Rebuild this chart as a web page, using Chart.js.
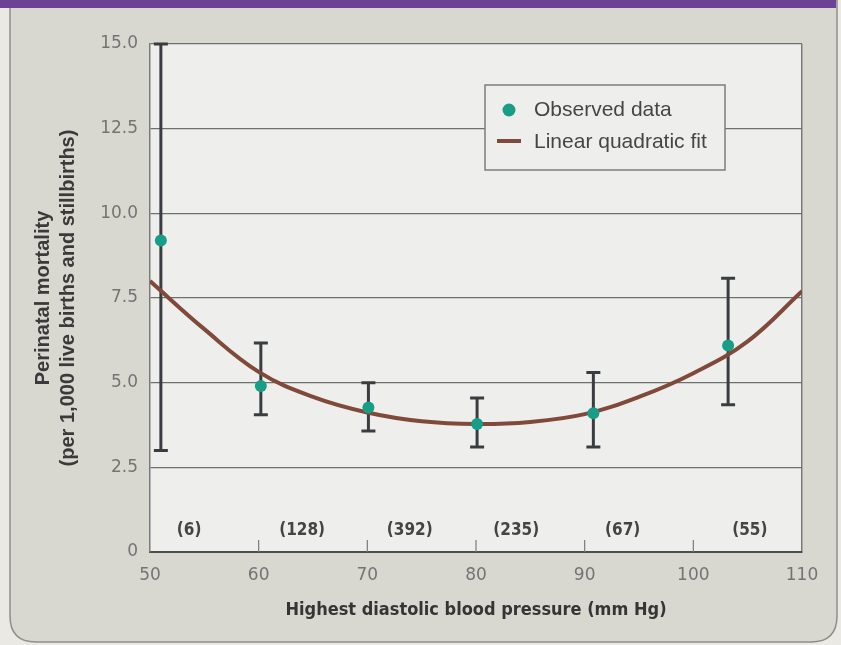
<!DOCTYPE html>
<html>
<head>
<meta charset="utf-8">
<script src="https://cdn.jsdelivr.net/npm/chart.js@4.4.1/dist/chart.umd.min.js"></script>
<style>
  html, body { margin: 0; padding: 0; background: #ebe9e4; }
  #wrap { width: 841px; height: 645px; }
</style>
</head>
<body>
<div id="wrap"><canvas id="bpChart" width="841" height="645"></canvas></div>
<script>
// observed points (mm Hg, deaths per 1,000) with their error bars
const obsX = [51, 60.2, 70.1, 80.1, 90.8, 103.2];
const obsY = [9.2, 4.9, 4.27, 3.78, 4.1, 6.1];
const obsLow = [3.0, 4.05, 3.57, 3.1, 3.1, 4.35];
const obsHigh = [15.0, 6.17, 5.0, 4.55, 5.3, 8.08];

// fitted curve
const fitX = [50, 55, 60, 65, 70, 75, 80, 85, 90, 95, 100, 105, 110];
const fitY = [8.0, 6.58, 5.32, 4.58, 4.12, 3.86, 3.78, 3.84, 4.07, 4.58, 5.28, 6.22, 7.7];

// group sizes written along the bottom
const counts = ["(6)", "(128)", "(392)", "(235)", "(67)", "(55)"];
const countAt = [53.6, 64, 73.9, 83.7, 93.5, 105.2];

const xTicks = [50, 60, 70, 80, 90, 100, 110];
const yTicks = [0, 2.5, 5, 7.5, 10, 12.5, 15];
const yTickLabels = ["0", "2.5", "5.0", "7.5", "10.0", "12.5", "15.0"];

const TEAL = "#189e86";
const BROWN = "#80493a";
const NARROW = "'DejaVu Sans Condensed', 'Liberation Sans', sans-serif";

/* page, panel and plot background */
const backdrop = {
  id: "backdrop",
  beforeDraw(chart) {
    const ctx = chart.ctx;
    const a = chart.chartArea;
    ctx.save();
    ctx.fillStyle = "#ebe9e4";
    ctx.fillRect(0, 0, chart.width, chart.height);

    // panel with rounded bottom corners
    const l = 10, r = 837, t = 0, b = 642, rad = 26;
    ctx.beginPath();
    ctx.moveTo(l, t);
    ctx.lineTo(r, t);
    ctx.lineTo(r, b - rad);
    ctx.quadraticCurveTo(r, b, r - rad, b);
    ctx.lineTo(l + rad, b);
    ctx.quadraticCurveTo(l, b, l, b - rad);
    ctx.closePath();
    ctx.fillStyle = "#d9d8d0";
    ctx.fill();
    ctx.strokeStyle = "#8e8e8e";
    ctx.lineWidth = 1.5;
    ctx.stroke();

    // purple band at the top
    ctx.fillStyle = "#6b4294";
    ctx.fillRect(0, 0, 836, 8);

    ctx.fillStyle = "#eeefed";
    ctx.fillRect(a.left, a.top, a.right - a.left, a.bottom - a.top);
    ctx.restore();
  }
};

/* error bars under the points */
const errorBars = {
  id: "errorBars",
  beforeDatasetsDraw(chart) {
    const ctx = chart.ctx;
    const xs = chart.scales.x, ys = chart.scales.y;
    ctx.save();
    ctx.strokeStyle = "#3a3d3f";
    ctx.lineWidth = 3;
    obsX.forEach((v, i) => {
      const px = xs.getPixelForValue(v);
      const lo = ys.getPixelForValue(obsLow[i]);
      const hi = ys.getPixelForValue(obsHigh[i]);
      ctx.beginPath();
      ctx.moveTo(px, lo); ctx.lineTo(px, hi);
      ctx.moveTo(px - 7, lo); ctx.lineTo(px + 7, lo);
      ctx.moveTo(px - 7, hi); ctx.lineTo(px + 7, hi);
      ctx.stroke();
    });
    ctx.restore();
  }
};

/* inner tick marks, group counts and the boxed legend */
const extras = {
  id: "extras",
  afterDatasetsDraw(chart) {
    const ctx = chart.ctx;
    const xs = chart.scales.x, ys = chart.scales.y;
    const a = chart.chartArea;
    ctx.save();

    // small ticks pointing up from the x axis
    ctx.strokeStyle = "#7a7a7a";
    ctx.lineWidth = 1.2;
    xTicks.slice(1, -1).forEach(v => {
      const px = xs.getPixelForValue(v);
      ctx.beginPath();
      ctx.moveTo(px, a.bottom);
      ctx.lineTo(px, a.bottom - 12);
      ctx.stroke();
    });

    // counts
    ctx.fillStyle = "#444444";
    ctx.font = "bold 17px " + NARROW;
    ctx.textAlign = "center";
    ctx.textBaseline = "middle";
    counts.forEach((c, i) => {
      ctx.fillText(c, xs.getPixelForValue(countAt[i]), ys.getPixelForValue(0.62));
    });

    // legend box
    const bx = 485, by = 85, bw = 240, bh = 85;
    ctx.fillStyle = "#eeefed";
    ctx.fillRect(bx, by, bw, bh);
    ctx.strokeStyle = "#7d7d7d";
    ctx.lineWidth = 1.5;
    ctx.strokeRect(bx, by, bw, bh);

    const ds = chart.data.datasets;
    ctx.beginPath();
    ctx.arc(bx + 24, by + 25, 6.5, 0, Math.PI * 2);
    ctx.fillStyle = ds[0].backgroundColor;
    ctx.fill();

    ctx.beginPath();
    ctx.moveTo(bx + 12, by + 56);
    ctx.lineTo(bx + 36, by + 56);
    ctx.strokeStyle = ds[1].borderColor;
    ctx.lineWidth = 4;
    ctx.stroke();

    ctx.fillStyle = "#454545";
    ctx.font = "21px 'Liberation Sans'";
    ctx.textAlign = "left";
    ctx.fillText(ds[0].label, bx + 49, by + 25);
    ctx.fillText(ds[1].label, bx + 49, by + 57);
    ctx.restore();
  }
};

new Chart(document.getElementById("bpChart"), {
  type: "line",
  data: {
    datasets: [
      {
        label: "Observed data",
        data: obsX.map((x, i) => ({ x: x, y: obsY[i] })),
        showLine: false,
        pointRadius: 6,
        pointBackgroundColor: TEAL,
        backgroundColor: TEAL,
        pointBorderWidth: 0
      },
      {
        label: "Linear quadratic fit",
        data: fitX.map((x, i) => ({ x: x, y: fitY[i] })),
        borderColor: BROWN,
        borderWidth: 4,
        pointRadius: 0,
        tension: 0.4,
        fill: false
      }
    ]
  },
  options: {
    responsive: false,
    animation: false,
    layout: { padding: { left: 0, top: 44, right: 39, bottom: 0 } },
    plugins: { legend: { display: false }, tooltip: { enabled: false } },
    scales: {
      x: {
        type: "linear",
        min: 50,
        max: 110,
        afterBuildTicks: s => { s.ticks = xTicks.map(v => ({ value: v })); },
        afterFit: s => { s.height = 93; },
        grid: {
          drawTicks: false,
          color: c => (c.tick && c.tick.value === 110) ? "#7a7a7a" : "rgba(0,0,0,0)",
          lineWidth: 1.5
        },
        border: { color: "#4d4d4d", width: 2 },
        ticks: {
          padding: 13,
          color: "#747474",
          font: { family: "'DejaVu Sans'", size: 17 },
          maxRotation: 0,
          autoSkip: false
        },
        title: {
          display: true,
          text: "Highest diastolic blood pressure (mm Hg)",
          color: "#353535",
          font: { family: NARROW, weight: "bold", size: 18 },
          padding: { top: 0, bottom: 24 }
        }
      },
      y: {
        min: 0,
        max: 15,
        afterBuildTicks: s => { s.ticks = yTicks.map(v => ({ value: v })); },
        afterFit: s => { s.width = 150; },
        grid: {
          drawTicks: false,
          color: c => (c.tick && c.tick.value === 0) ? "rgba(0,0,0,0)" : "#6e7070",
          lineWidth: 1.3
        },
        border: { color: "#7a7a7a", width: 1.5 },
        ticks: {
          padding: 12,
          color: "#747474",
          font: { family: "'DejaVu Sans'", size: 17 },
          callback: (v, i) => yTickLabels[i]
        },
        title: {
          display: true,
          text: ["Perinatal mortality", "(per 1,000 live births and stillbirths)"],
          color: "#3a3a3a",
          font: { family: "Liberation Sans", weight: "bold", size: 20, lineHeight: 1.25 },
          padding: { top: 30.5, bottom: 0 }
        }
      }
    }
  },
  plugins: [backdrop, errorBars, extras]
});
</script>
</body>
</html>
